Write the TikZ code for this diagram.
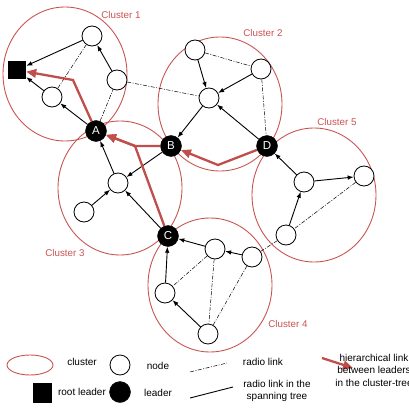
\documentclass[tikz,border=0pt]{standalone}
\usepackage{fontspec}
\setmainfont{Liberation Sans}
\usetikzlibrary{arrows.meta}
\definecolor{clred}{RGB}{200,84,82}
\definecolor{hred}{RGB}{192,78,75}
\begin{document}
\begin{tikzpicture}[x=1pt,y=-1pt,
  nd/.style={circle,draw,line width=0.8pt,minimum size=20pt,inner sep=0pt,fill=white},
  ld/.style={circle,fill=black,draw=black,minimum size=21pt,inner sep=0pt,text=white,font=\fontsize{11.5}{12}\selectfont},
  rt/.style={rectangle,fill=black,minimum size=18pt,inner sep=0pt},
  cl/.style={draw=clred,line width=0.9pt},
  cltext/.style={text=clred,font=\fontsize{9.8}{11}\selectfont},
  tree/.style={line width=0.9pt,-{Latex[length=6pt,width=4.5pt]}},
  radio/.style={line width=0.5pt,dash pattern=on 4pt off 1.5pt on 1pt off 1.5pt},
  hier/.style={draw=hred,line width=2.3pt,-{Triangle[length=10pt,width=8.5pt]}},
  lg/.style={font=\fontsize{10}{12.5}\selectfont,align=center}
]
\useasboundingbox (0,0) rectangle (408,412);
% clusters
\draw[cl] (65,74) ellipse [x radius=62,y radius=67];
\draw[cl] (220,104) ellipse [x radius=62,y radius=67];
\draw[cl] (120,188) ellipse [x radius=62,y radius=67];
\draw[cl] (314,195) ellipse [x radius=62,y radius=67];
\draw[cl] (210,285) ellipse [x radius=62,y radius=67];
\node[cltext] (c1) at (121,15) {Cluster 1};
\node[cltext] (c2) at (263,33) {Cluster 2};
\node[cltext] (c5) at (337,122) {Cluster 5};
\node[cltext] (c3) at (65,253) {Cluster 3};
\node[cltext] (c4) at (288,324) {Cluster 4};
% nodes
\node[rt] (sq) at (17,70) {};
\node[nd] (n1a) at (92,36) {};
\node[nd] (n1b) at (117,80) {};
\node[nd] (n1c) at (52,97) {};
\node[ld] (A) at (96,131) {A};
\node[ld] (B) at (171,146) {B};
\node[ld] (D) at (267,146) {D};
\node[ld] (C) at (168,236) {C};
\node[nd] (n2a) at (195,50) {};
\node[nd] (n2b) at (261,69) {};
\node[nd] (n2c) at (209,98) {};
\node[nd] (n3a) at (118,183) {};
\node[nd] (n3b) at (84,212) {};
\node[nd] (n5a) at (304,182) {};
\node[nd] (n5b) at (364,176) {};
\node[nd] (n5c) at (286,235) {};
\node[nd] (n4a) at (215,249) {};
\node[nd] (n4b) at (252,257) {};
\node[nd] (n4c) at (165,293) {};
\node[nd] (n4d) at (208,334) {};
% radio links
\draw[radio] (n1a) -- (n1c);
\draw[radio] (A) -- (n1b);
\draw[radio] (n1b) -- (n2c);
\draw[radio] (n2a) -- (n2b);
\draw[radio] (n2b) -- (D);
\draw[radio] (n5b) -- (n5c);
\draw[radio] (n5c) -- (n4b);
\draw[radio] (n4a) -- (n4c);
\draw[radio] (n4a) -- (n4d);
\draw[radio] (n4b) -- (n4d);
% spanning tree
\draw[tree] (n1a) -- (sq);
\draw[tree] (n1c) -- (sq);
\draw[tree] (A) -- (n1c);
\draw[tree] (n1b) -- (n1a);
\draw[tree] (n2a) -- (n2c);
\draw[tree] (n2b) -- (n2c);
\draw[tree] (n2c) -- (B);
\draw[tree] (D) -- (n2c);
\draw[tree] (B) -- (n3a);
\draw[tree] (n3a) -- (A);
\draw[tree] (n3b) -- (n3a);
\draw[tree] (C) -- (n3a);
\draw[tree] (n5a) -- (D);
\draw[tree] (n5a) -- (n5b);
\draw[tree] (n5c) -- (n5a);
\draw[tree] (n4a) -- (C);
\draw[tree] (n4b) -- (n4a);
\draw[tree] (n4c) -- (C);
\draw[tree] (n4d) -- (n4c);
% hierarchical links
\coordinate (k1) at (73,80);
\coordinate (j) at (135,146);
\coordinate (k2) at (218,165);
\draw[hier] (A) -- (k1) -- (sq);
\draw[hier] (C) -- (j) -- (A);
\draw[hier] (B) -- (j) -- (A);
\draw[hier] (D) -- (k2) -- (B);
% legend
\draw[cl] (30,365) ellipse [x radius=23,y radius=10];
\node[lg] (lcl) at (82,362) {cluster};
\node[nd] (lnd) at (120,365) {};
\node[lg] (lndt) at (158,366) {node};
\coordinate (r1) at (190,372);
\coordinate (r2) at (227,363);
\draw[radio] (r1) -- (r2);
\node[lg] (lrt) at (263,362) {radio link};
\coordinate (h1) at (322,358);
\coordinate (h2) at (353,368);
\draw[hier] (h1) -- (h2);
\node[lg] (lht) at (374,370) {hierarchical link\\between leaders\\in the cluster-tree};
\node[rt,minimum width=19pt,minimum height=20pt] (lsq) at (42,393) {};
\node[lg] (lsqt) at (82,392) {root leader};
\node[ld] (lld) at (120,392) {};
\node[lg] (lldt) at (158,393) {leader};
\coordinate (s1) at (190,398);
\coordinate (s2) at (233,387);
\draw[line width=0.9pt] (s1) -- (s2);
\node[lg] (lst) at (277,391) {radio link in the\\spanning tree};
\end{tikzpicture}
\end{document}
